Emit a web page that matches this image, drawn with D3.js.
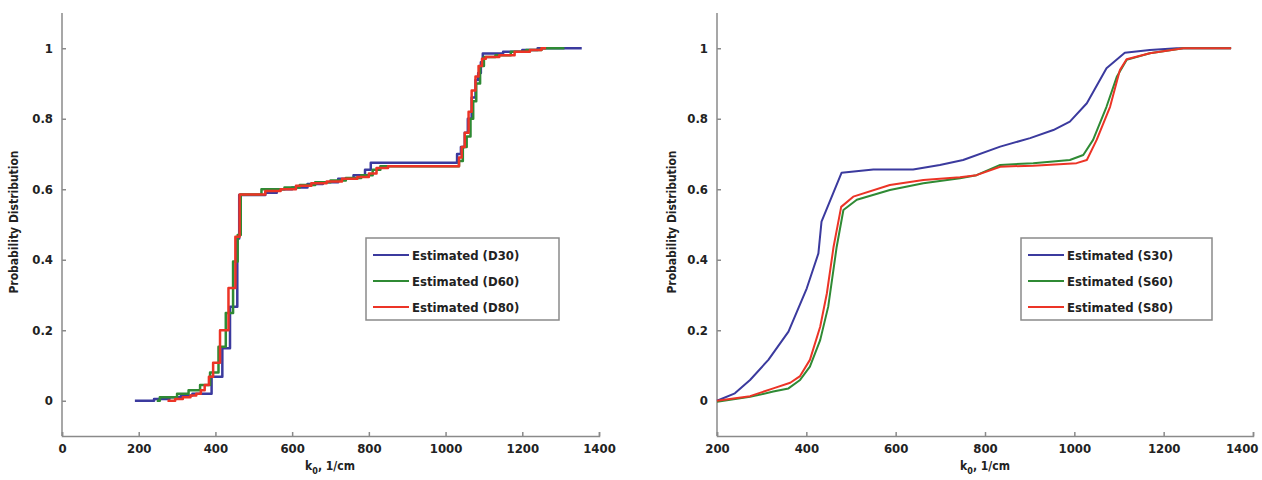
<!DOCTYPE html>
<html lang="en">
<head>
    <meta charset="UTF-8">
    <script src="https://cdn.jsdelivr.net/npm/d3@7/dist/d3.min.js"></script>
    <title>Probability Distribution</title>
    <style>
        body { margin: 0; background: white; }
        svg text {
            font-family: "DejaVu Sans Condensed", "Liberation Sans Narrow", "DejaVu Sans", sans-serif;
            font-weight: bold;
            fill: #222;
        }
    </style>
</head>
<body>
<div id="chart"></div>

<script>
    const width = 1262;
    const height = 480;

    // Left panel: step estimates (x in 1/cm, cumulative probability)
    const d30 = [[190,0],[240,0.005],[280,0.01],[310,0.015],[340,0.02],[390,0.068],[418,0.149],[438,0.267],[457,0.46],[462,0.584],
        [530,0.59],[560,0.6],[600,0.605],[640,0.615],[680,0.62],[720,0.63],[760,0.64],[790,0.655],[805,0.675],
        [1030,0.7],[1040,0.72],[1050,0.76],[1058,0.8],[1068,0.86],[1078,0.91],[1085,0.93],[1092,0.96],[1097,0.985],
        [1150,0.99],[1200,0.995],[1240,1.0],[1355,1.0]];
    const d60 = [[247,0],[255,0.01],[300,0.02],[330,0.03],[360,0.045],[386,0.08],[408,0.153],[427,0.249],[446,0.395],[458,0.47],[466,0.585],
        [520,0.6],[580,0.605],[620,0.612],[660,0.62],[700,0.625],[740,0.632],[780,0.64],[810,0.655],[830,0.665],
        [1035,0.68],[1045,0.72],[1055,0.75],[1065,0.8],[1072,0.85],[1080,0.9],[1090,0.95],[1100,0.975],
        [1130,0.98],[1170,0.99],[1210,0.995],[1250,1.0],[1310,1.0]];
    const d80 = [[275,0],[295,0.005],[315,0.01],[335,0.015],[350,0.02],[362,0.03],[372,0.045],[383,0.068],[394,0.108],[412,0.2],[434,0.32],[452,0.465],[463,0.585],
        [530,0.595],[570,0.6],[610,0.61],[650,0.617],[690,0.622],[730,0.63],[770,0.635],[800,0.645],[820,0.66],[850,0.665],
        [1035,0.69],[1042,0.72],[1050,0.76],[1060,0.82],[1068,0.88],[1078,0.92],[1086,0.95],[1095,0.97],[1105,0.975],
        [1140,0.98],[1180,0.99],[1220,0.995],[1250,1.0],[1262,1.0]];

    // Right panel: smooth estimates
    const s30 = [[200,0],[240,0.021],[274,0.059],[315,0.116],[360,0.196],[401,0.319],[427,0.418],[434,0.508],[479,0.647],
        [550,0.656],[639,0.656],[699,0.669],[751,0.683],[834,0.721],[901,0.745],[953,0.768],[990,0.792],[1028,0.844],
        [1072,0.943],[1113,0.987],[1169,0.995],[1229,1.0],[1351,1.0]];
    const s60 = [[200,-0.003],[274,0.011],[326,0.026],[360,0.035],[386,0.059],[408,0.097],[431,0.172],[449,0.267],[468,0.437],[483,0.541],
        [513,0.57],[587,0.598],[662,0.617],[744,0.631],[781,0.64],[834,0.669],[908,0.674],[990,0.683],[1020,0.697],
        [1042,0.74],[1072,0.834],[1095,0.919],[1117,0.967],[1169,0.986],[1244,1.0],[1351,1.0]];
    const s80 = [[200,0],[274,0.013],[326,0.035],[364,0.051],[386,0.07],[408,0.116],[431,0.21],[446,0.305],[461,0.437],[478,0.55],
        [505,0.579],[587,0.612],[662,0.626],[744,0.634],[781,0.64],[834,0.664],[908,0.667],[1005,0.674],[1028,0.683],
        [1050,0.74],[1080,0.834],[1102,0.938],[1117,0.969],[1169,0.986],[1244,1.0],[1351,1.0]];

    const yTicks = [0, 0.2, 0.4, 0.6, 0.8, 1];
    const leftXTicks = [0, 200, 400, 600, 800, 1000, 1200, 1400];
    const rightXTicks = [200, 400, 600, 800, 1000, 1200, 1400];
    const leftNames = ["Estimated (D30)", "Estimated (D60)", "Estimated (D80)"];
    const rightNames = ["Estimated (S30)", "Estimated (S60)", "Estimated (S80)"];
    const colors = ["#3b3a9e", "#2f8a34", "#ec3426"];

    const svg = d3.select("#chart").append("svg")
        .attr("width", width)
        .attr("height", height);

    const drawPanel = (opts) => {
        const x = d3.scaleLinear().domain(opts.xDomain).range(opts.xRange);
        const y = d3.scaleLinear().domain([-0.1, 1.1]).range([436, 13]);
        const g = svg.append("g");

        // y axis (ticks point inward)
        const yAxis = g.append("g")
            .attr("transform", `translate(${opts.xRange[0]},0)`)
            .call(d3.axisRight(y).tickValues(yTicks).tickSize(4).tickFormat(d3.format("~g")));
        yAxis.select(".domain").attr("d", `M0,13V436`);
        yAxis.selectAll("text").attr("x", -9).attr("text-anchor", "end").attr("font-size", 13);

        // x axis (ticks point inward)
        const xAxis = g.append("g")
            .attr("transform", "translate(0,436)")
            .call(d3.axisTop(x).tickValues(opts.xTicks).tickSize(4).tickFormat(d3.format("d")));
        xAxis.selectAll("text").attr("y", 17).attr("font-size", 13);
        // keep the last label inside the page
        xAxis.selectAll("text").filter(d => x(d) + 16 > width)
            .attr("text-anchor", "end").attr("x", 5);

        g.selectAll(".domain, .tick line").attr("stroke", "#8a8a8a").attr("stroke-width", 1.5);

        // axis titles
        const lbl = g.append("text")
            .attr("x", opts.xLabelX)
            .attr("y", 470)
            .attr("text-anchor", "middle")
            .attr("font-size", 12);
        lbl.append("tspan").text("k");
        lbl.append("tspan").attr("dy", 4).attr("font-size", 9).text("0");
        lbl.append("tspan").attr("dy", -4).text(", 1/cm");

        g.append("text")
            .attr("transform", `translate(${opts.yLabelX},222) rotate(-90)`)
            .attr("text-anchor", "middle")
            .attr("font-size", 12)
            .text("Probability Distribution");

        const line = d3.line()
            .x(d => x(d[0]))
            .y(d => y(d[1]))
            .curve(opts.curve);

        opts.series.forEach((s, i) => {
            g.append("path")
                .datum(s)
                .attr("fill", "none")
                .attr("stroke", colors[i])
                .attr("stroke-width", opts.lineWidth)
                .attr("stroke-linejoin", "round")
                .attr("d", line);
        });

        // legend
        const lg = g.append("g").attr("transform", `translate(${opts.legend[0]},${opts.legend[1]})`);
        lg.append("rect")
            .attr("width", opts.legend[2])
            .attr("height", 82)
            .attr("fill", "white")
            .attr("stroke", "#8a8a8a")
            .attr("stroke-width", 1.5);
        opts.names.forEach((n, i) => {
            const yy = 17 + i * 26;
            lg.append("line")
                .attr("x1", 7).attr("x2", 43)
                .attr("y1", yy).attr("y2", yy)
                .attr("stroke", colors[i])
                .attr("stroke-width", 2);
            lg.append("text")
                .attr("x", 46)
                .attr("y", yy + 5)
                .attr("font-size", 13)
                .text(n);
        });
    };

    drawPanel({
        xDomain: [0, 1400], xRange: [62, 599], xTicks: leftXTicks,
        series: [d30, d60, d80], names: leftNames, curve: d3.curveStepAfter,
        lineWidth: 2.5, legend: [366, 238, 193], xLabelX: 330, yLabelX: 18
    });

    drawPanel({
        xDomain: [200, 1400], xRange: [717, 1253], xTicks: rightXTicks,
        series: [s30, s60, s80], names: rightNames, curve: d3.curveLinear,
        lineWidth: 2, legend: [1021, 238, 191], xLabelX: 985, yLabelX: 676
    });
</script>
</body>
</html>
